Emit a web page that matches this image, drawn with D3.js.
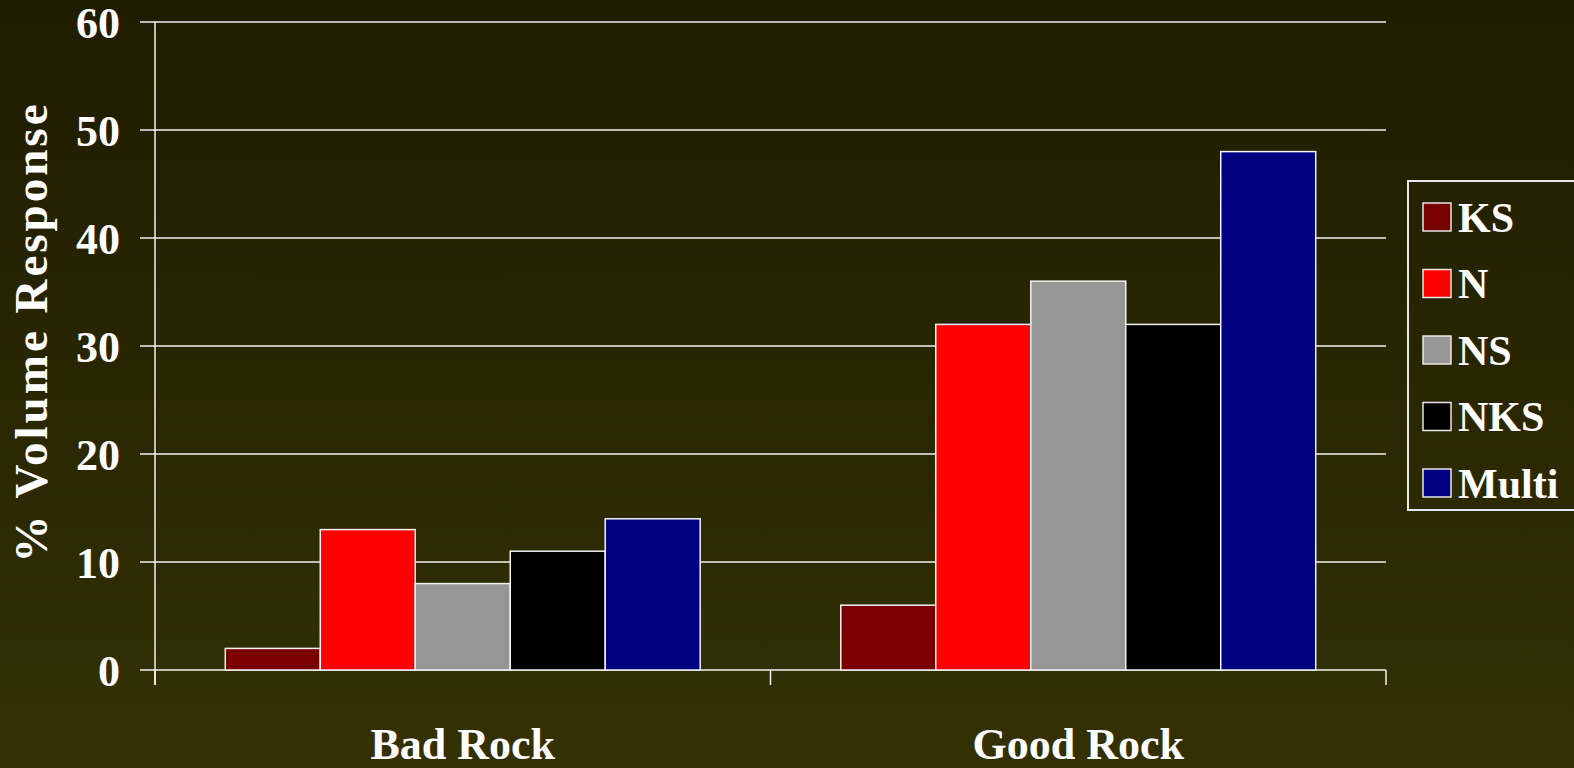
<!DOCTYPE html>
<html><head><meta charset="utf-8">
<script src="https://cdn.jsdelivr.net/npm/d3@7"></script>
<style>html,body{margin:0;padding:0;overflow:hidden;background:#262300}</style>
</head><body>
<svg id="c" width="1574" height="768"></svg>
<script>
const categories = ["Bad Rock", "Good Rock"];
const seriesNames = ["KS", "N", "NS", "NKS", "Multi"];
const seriesColors = ["#7a0000", "#ff0000", "#969696", "#000000", "#000080"];
const KS = [2, 6];
const N = [13, 32];
const NS = [8, 36];
const NKS = [11, 32];
const Multi = [14, 48];
const yTicks = [0, 10, 20, 30, 40, 50, 60];
const seriesValues = [KS, N, NS, NKS, Multi];

const svg = d3.select("#c");
const W = 1574, H = 768;
const defs = svg.append("defs");
const grad = defs.append("linearGradient").attr("id","bg").attr("x1",0).attr("y1",0).attr("x2",0).attr("y2",1);
grad.append("stop").attr("offset","0%").attr("stop-color","#1f1c00");
grad.append("stop").attr("offset","100%").attr("stop-color","#333104");
svg.append("rect").attr("width",W).attr("height",H).attr("fill","url(#bg)");

const m = {left:155, right:1386, top:22, bottom:670};
const font = "'Liberation Serif','Times New Roman',serif";
const x0 = d3.scaleBand().domain(categories).range([m.left, m.right]).paddingInner(0).paddingOuter(0);
const x1 = d3.scaleBand().domain(seriesNames).range([0, x0.bandwidth()]).paddingInner(0).paddingOuter(0.74);
const y = d3.scaleLinear().domain([0,60]).range([m.bottom, m.top]);

// gridlines
svg.append("g").selectAll("line").data(yTicks).join("line")
  .attr("x1", m.left-15).attr("x2", m.right)
  .attr("y1", d=>y(d)).attr("y2", d=>y(d))
  .attr("stroke","#f2f2f2").attr("stroke-width",1.5);

// y axis
const yAxis = d3.axisLeft(y).tickValues(yTicks).tickSize(0).tickPadding(35);
const ga = svg.append("g").attr("transform",`translate(${m.left},0)`).call(yAxis);
ga.select(".domain").remove();
ga.selectAll("text").attr("font-family",font).attr("font-weight","bold").attr("font-size",44).attr("fill","#fff").attr("dy","0.36em");
svg.append("line").attr("x1",m.left).attr("x2",m.left).attr("y1",m.top).attr("y2",m.bottom+15).attr("stroke","#f2f2f2").attr("stroke-width",1.5);

// x axis ticks
const xt = [m.left, m.left + x0.bandwidth(), m.right];
svg.append("g").selectAll("line").data(xt).join("line")
  .attr("x1",d=>d).attr("x2",d=>d).attr("y1",m.bottom).attr("y2",m.bottom+15)
  .attr("stroke","#f2f2f2").attr("stroke-width",1.5);

// bars
const groups = svg.append("g").selectAll("g").data(categories).join("g")
  .attr("transform", d=>`translate(${x0(d)},0)`);
groups.selectAll("rect").data((c,ci)=>seriesNames.map((s,si)=>({s, si, v: seriesValues[si][ci]})))
  .join("rect")
  .attr("x", d=>x1(d.s)).attr("width", x1.bandwidth())
  .attr("y", d=>y(d.v)).attr("height", d=>y(0)-y(d.v))
  .attr("fill", d=>seriesColors[d.si])
  .attr("stroke","#f2f2f2").attr("stroke-width",1.5);

// x labels
svg.append("g").selectAll("text").data(categories).join("text")
  .attr("x", d=>x0(d)+x0.bandwidth()/2).attr("y", 759)
  .attr("text-anchor","middle").attr("font-family",font).attr("font-weight","bold").attr("font-size",44).attr("fill","#fff")
  .text(d=>d);

// y title
svg.append("text").attr("transform","translate(47,332) rotate(-90)")
  .attr("text-anchor","middle").attr("font-family",font).attr("font-weight","bold").attr("font-size",47)
  .attr("letter-spacing",3).attr("fill","#fff")
  .text("% Volume Response");

// legend
const lg = svg.append("g");
lg.append("rect").attr("x",1408).attr("y",181).attr("width",170).attr("height",329)
  .attr("fill","none").attr("stroke","#e8e8e8").attr("stroke-width",2);
const ly = d3.scalePoint().domain(seriesNames).range([217, 483]);
const items = lg.selectAll("g").data(seriesNames).join("g").attr("transform",d=>`translate(0,${ly(d)})`);
items.append("rect").attr("x",1423).attr("y",-14).attr("width",28).attr("height",28)
  .attr("fill",(d,i)=>seriesColors[i]).attr("stroke","#e8e8e8").attr("stroke-width",1.5);
items.append("text").attr("x",1458).attr("y",0).attr("dy","0.35em")
  .attr("font-family",font).attr("font-weight","bold").attr("font-size",42).attr("fill","#fff")
  .text(d=>d);
</script>
</body></html>
